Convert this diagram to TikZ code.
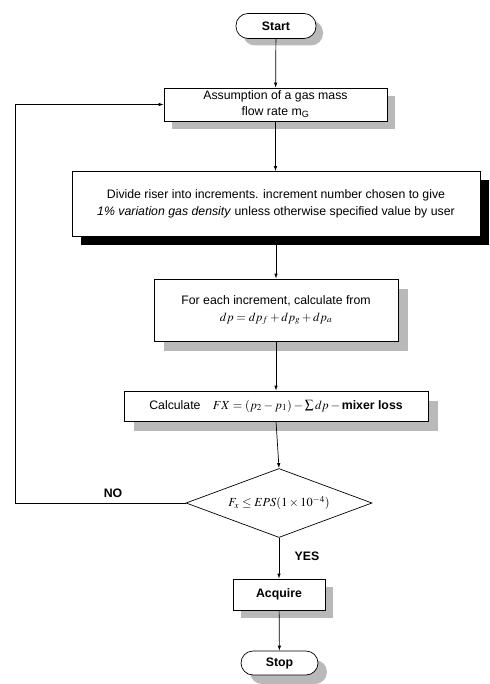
\documentclass[tikz,border=0pt]{standalone}
\usepackage{mathptmx}
\usepackage{fontspec}
\setmainfont{Liberation Sans}
\usetikzlibrary{shapes.geometric,shadows,arrows.meta}
\begin{document}
\begin{tikzpicture}[x=1pt,y=-1pt,line width=0.7pt,
  font=\fontsize{12.3}{17}\selectfont,
  box/.style={draw,fill=white,align=center,inner sep=1pt},
  term/.style={box,rounded corners=12pt},
  greyshadow/.style={drop shadow={shadow xshift=#1,shadow yshift=-#1,fill=gray!55,opacity=1}},
  blackshadow/.style={drop shadow={shadow xshift=#1,shadow yshift=-#1,fill=black,opacity=1}},
  decision/.style={diamond,draw,fill=white,aspect=2.7,inner sep=0pt},
  arr/.style={-{Latex[length=5pt,width=3.5pt]}}]
  \useasboundingbox (0,0) rectangle (489,684);
  % Start and first guess
  \node[term,greyshadow=7pt,minimum width=80,minimum height=25] (start) at (276,26) {\bfseries Start};
  \node[box,greyshadow=8pt,minimum width=223,minimum height=33] (assume) at (275.5,104.5)
    {Assumption of a gas mass\\[-1pt]flow rate m\textsubscript{G}};
  % Increments
  \node[box,blackshadow=9pt,minimum width=408,minimum height=65] (divide) at (276,204)
    {Divide riser into increments. increment number chosen to give\\
     \textit{1\% variation gas density} unless otherwise specified value by user};
  \node[box,greyshadow=10pt,minimum width=244,minimum height=62] (increment) at (276,310)
    {For each increment, calculate from\\ $dp=dp_f+dp_g+dp_a$};
  \node[box,greyshadow=10pt,minimum width=304,minimum height=30] (calculate) at (276,406)
    {Calculate\quad $FX=(p_2-p_1)-\sum dp-{}$\textbf{mixer loss}};
  % Convergence check
  \node[decision,minimum width=186,minimum height=69] (check) at (279,503)
    {$F_x\le EPS(1\times10^{-4})$};
  \node[box,greyshadow=8pt,minimum width=92,minimum height=31] (acquire) at (279,594.5) {\bfseries Acquire};
  \node[term,greyshadow=9pt,minimum width=77,minimum height=24] (stop) at (279.5,663) {\bfseries Stop};
  \coordinate (loop) at (15,503);
  % Connectors
  \draw[arr] (start) -- (assume);
  \draw[arr] (assume) -- (divide.north -| assume);
  \draw[arr] (divide.south -| increment) -- (increment);
  \draw[arr] (increment) -- (calculate);
  \draw[arr] (calculate.south) -- (check.north);
  \draw[arr] (check) -- (acquire);
  \draw[arr] (acquire) -- (stop);
  \draw[arr] (check.west) -- (loop) |- (assume.west);
  \node[font=\bfseries\fontsize{12.3}{14}\selectfont] (no) at (113,493) {NO};
  \node[font=\bfseries\fontsize{12.3}{14}\selectfont] (yes) at (307,556) {YES};
\end{tikzpicture}
\end{document}
